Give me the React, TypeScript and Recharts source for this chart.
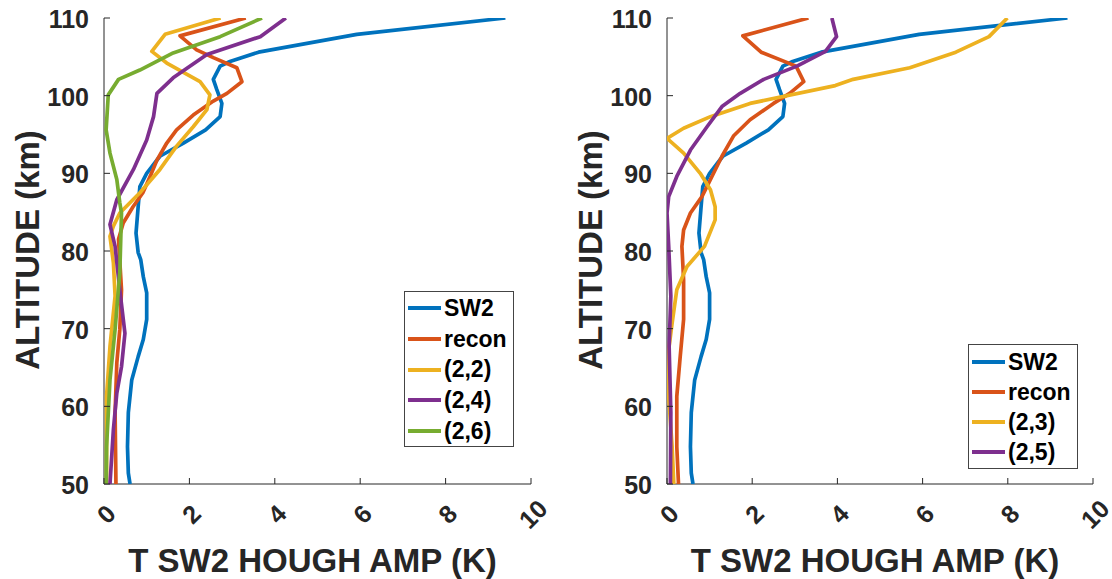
import React from 'react';
import { ScatterChart, Scatter, XAxis, YAxis } from 'recharts';

// ---------- data: [altitude (km), amplitude (K)] ----------
const sw2: [number, number][] = [
  [110, 9.4], [107.9, 5.92], [105.6, 3.62], [104.4, 2.95], [103.8, 2.72], [102.1, 2.56],
  [100.8, 2.64], [99.0, 2.76], [97.3, 2.72], [95.6, 2.38], [93.9, 1.86], [92.2, 1.31],
  [90.0, 1.0], [88.3, 0.84], [85.7, 0.8], [82.3, 0.75], [79.8, 0.8], [78.9, 0.86],
  [76.7, 0.92], [74.6, 1.0], [71.2, 1.0], [68.6, 0.92], [66.4, 0.8], [63.4, 0.65],
  [59.2, 0.57], [54.8, 0.55], [51.4, 0.57], [50, 0.61],
];

const reconLeft: [number, number][] = [
  [110, 3.32], [107.7, 1.78], [105.9, 2.17], [104.9, 2.56], [103.6, 3.11], [101.8, 3.23],
  [100.3, 2.88], [99.3, 2.56], [97.5, 2.09], [95.6, 1.7], [93.9, 1.47], [91.7, 1.24],
  [89.6, 1.08], [87.5, 0.91], [85.7, 0.68], [83.6, 0.45], [81.5, 0.34], [75.0, 0.41],
  [69.9, 0.37], [65.6, 0.3], [59.2, 0.26], [50, 0.28],
];

const mode22: [number, number][] = [
  [110, 2.73], [107.9, 1.43], [105.7, 1.12], [104.2, 1.47], [101.8, 2.25], [100.1, 2.48],
  [98.2, 2.41], [96.0, 2.09], [93.5, 1.7], [90.5, 1.31], [87.5, 0.84], [84.9, 0.37],
  [83.2, 0.22], [81.9, 0.14], [78.5, 0.22], [74.2, 0.26], [67.7, 0.14], [61.3, 0.06], [50, 0.06],
];

const mode24: [number, number][] = [
  [110, 4.26], [107.6, 3.66], [105.3, 2.41], [102.3, 1.62], [100.3, 1.24], [97.3, 1.16],
  [94.3, 1.0], [90.5, 0.69], [86.6, 0.3], [83.4, 0.14], [80.6, 0.26], [75.0, 0.37],
  [69.4, 0.49], [65.1, 0.41], [61.7, 0.3], [57.0, 0.22], [50, 0.14],
];

const mode26: [number, number][] = [
  [110, 3.7], [107.6, 2.72], [105.5, 1.62], [103.3, 0.84], [102.1, 0.34], [100.1, 0.1],
  [95.6, 0.05], [92.6, 0.14], [89.2, 0.3], [86.2, 0.37], [84.9, 0.41], [77.2, 0.37],
  [69.9, 0.26], [63.4, 0.14], [54.8, 0.06], [50, 0.05],
];

const reconRight: [number, number][] = [
  [110, 3.32], [107.7, 1.78], [105.6, 2.21], [103.8, 3.03], [101.8, 3.21], [100.3, 2.88],
  [99.0, 2.5], [96.9, 1.95], [94.8, 1.56], [92.2, 1.29], [89.2, 1.02], [87.0, 0.82],
  [84.9, 0.55], [82.7, 0.39], [80.6, 0.35], [76.3, 0.39], [71.2, 0.39], [66.4, 0.31],
  [61.3, 0.23], [54.8, 0.23], [50, 0.27],
];

const mode23: [number, number][] = [
  [110, 7.99], [107.6, 7.56], [105.6, 6.78], [103.6, 5.7], [102.1, 4.37], [101.3, 3.95],
  [99.0, 1.95], [97.3, 1.02], [95.8, 0.39], [94.5, 0.0], [92.6, 0.39], [90.0, 0.78],
  [87.9, 1.02], [85.7, 1.13], [84.0, 1.13], [80.6, 0.88], [78.0, 0.47], [75.0, 0.23],
  [70.7, 0.12], [65.6, 0.0], [61.3, 0.04], [54.8, 0.12], [50, 0.16],
];

const mode25: [number, number][] = [
  [110, 3.87], [107.6, 3.98], [105.7, 3.72], [103.8, 3.05], [102.1, 2.27], [100.3, 1.72],
  [98.6, 1.29], [96.0, 0.94], [93.0, 0.55], [89.6, 0.23], [87.0, 0.04], [84.9, 0.0],
  [80.6, 0.04], [74.2, 0.09], [67.7, 0.05], [59.2, 0.09], [50, 0.08],
];

const xTicks = [0, 2, 4, 6, 8, 10];
const yTicks = [50, 60, 70, 80, 90, 100, 110];
const xLabel = 'T SW2 HOUGH AMP (K)';
const yLabel = 'ALTITUDE (km)';

const C_BLUE = '#0072BD';
const C_ORANGE = '#D95319';
const C_YELLOW = '#EDB120';
const C_PURPLE = '#7E2F8E';
const C_GREEN = '#77AC30';

type Series = { name: string; color: string; data: [number, number][] };

const leftSeries: Series[] = [
  { name: 'SW2', color: C_BLUE, data: sw2 },
  { name: 'recon', color: C_ORANGE, data: reconLeft },
  { name: '(2,2)', color: C_YELLOW, data: mode22 },
  { name: '(2,4)', color: C_PURPLE, data: mode24 },
  { name: '(2,6)', color: C_GREEN, data: mode26 },
];

const rightSeries: Series[] = [
  { name: 'SW2', color: C_BLUE, data: sw2 },
  { name: 'recon', color: C_ORANGE, data: reconRight },
  { name: '(2,3)', color: C_YELLOW, data: mode23 },
  { name: '(2,5)', color: C_PURPLE, data: mode25 },
];

// ---------- styling ----------
const FONT = '"Liberation Sans", Arial, Helvetica, sans-serif';
const AXIS = '#262626';
const TICK_LEN = 6;

const BottomTick = (props: any) => {
  const { x, y, payload } = props;
  return (
    <g>
      <line x1={x} y1={y} x2={x} y2={y - TICK_LEN} stroke={AXIS} strokeWidth={1} />
      <text
        transform={`translate(${x + 2},${y + 30}) rotate(-45)`}
        textAnchor="middle"
        dominantBaseline="central"
        fontFamily={FONT}
        fontWeight="bold"
        fontSize={25}
        fill={AXIS}
      >
        {payload.value}
      </text>
    </g>
  );
};

const TopTick = (props: any) => {
  const { x, y } = props;
  return <line x1={x} y1={y} x2={x} y2={y + TICK_LEN} stroke={AXIS} strokeWidth={1} />;
};

const LeftTick = (props: any) => {
  const { x, y, payload } = props;
  return (
    <g>
      <line x1={x} y1={y} x2={x + TICK_LEN} y2={y} stroke={AXIS} strokeWidth={1} />
      <text
        x={x - 15}
        y={y + 1}
        textAnchor="end"
        dominantBaseline="central"
        fontFamily={FONT}
        fontWeight="bold"
        fontSize={25}
        fill={AXIS}
      >
        {payload.value}
      </text>
    </g>
  );
};

const RightTick = (props: any) => {
  const { x, y } = props;
  return <line x1={x} y1={y} x2={x - TICK_LEN} y2={y} stroke={AXIS} strokeWidth={1} />;
};

const noShape = () => <g />;

type PanelProps = {
  series: Series[];
  left: number;
  yAxisWidth: number;
  rightMargin: number;
  legendBox: { left: number; top: number; width: number; rowH: number; padTop: number };
};

const W = 556;
const H = 579;

const Panel = ({ series, left, yAxisWidth, rightMargin, legendBox }: PanelProps) => {
  const plotLeft = yAxisWidth;
  const plotRight = W - rightMargin;
  const xCenter = (plotLeft + plotRight) / 2;
  return (
    <div style={{ position: 'absolute', left, top: 0, width: W, height: H }}>
      <ScatterChart width={W} height={H} margin={{ top: 18, right: rightMargin, bottom: 0, left: 0 }}>
        <XAxis
          xAxisId="b"
          type="number"
          dataKey="x"
          domain={[0, 10]}
          ticks={xTicks}
          allowDataOverflow
          height={95}
          tickSize={0}
          tickMargin={0}
          tickLine={false}
          tick={BottomTick}
          axisLine={{ stroke: AXIS, strokeWidth: 1 }}
          interval={0}
          label={{
            content: () => (
              <text
                x={xCenter - 5}
                y={572}
                textAnchor="middle"
                fontFamily={FONT}
                fontWeight="bold"
                fontSize={33}
                fill={AXIS}
              >
                {xLabel}
              </text>
            ),
          }}
        />
        <XAxis
          xAxisId="t"
          orientation="top"
          type="number"
          domain={[0, 10]}
          ticks={xTicks}
          allowDataOverflow
          height={0}
          tickSize={0}
          tickMargin={0}
          tickLine={false}
          tick={TopTick}
          axisLine={{ stroke: AXIS, strokeWidth: 1 }}
          interval={0}
        />
        <YAxis
          yAxisId="l"
          type="number"
          dataKey="y"
          domain={[50, 110]}
          ticks={yTicks}
          allowDataOverflow
          width={yAxisWidth}
          tickSize={0}
          tickMargin={0}
          tickLine={false}
          tick={LeftTick}
          axisLine={{ stroke: AXIS, strokeWidth: 1 }}
          interval={0}
          label={{
            content: () => {
              const lx = yAxisWidth - 65;
              const ly = 250;
              return (
                <text
                  x={lx}
                  y={ly}
                  transform={`rotate(-90, ${lx}, ${ly})`}
                  textAnchor="middle"
                  fontFamily={FONT}
                  fontWeight="bold"
                  fontSize={33}
                  fill={AXIS}
                >
                  {yLabel}
                </text>
              );
            },
          }}
        />
        <YAxis
          yAxisId="r"
          orientation="right"
          type="number"
          domain={[50, 110]}
          ticks={yTicks}
          allowDataOverflow
          width={0}
          tickSize={0}
          tickMargin={0}
          tickLine={false}
          tick={RightTick}
          axisLine={{ stroke: AXIS, strokeWidth: 1 }}
          interval={0}
        />
        {series.map((s) => (
          <Scatter
            key={s.name}
            name={s.name}
            xAxisId="b"
            yAxisId="l"
            data={s.data.map(([alt, amp]) => ({ x: amp, y: alt }))}
            fill={s.color}
            line={{ stroke: s.color, strokeWidth: 3.7, strokeLinejoin: 'round', strokeLinecap: 'butt' }}
            lineJointType="linear"
            shape={noShape}
            isAnimationActive={false}
          />
        ))}
      </ScatterChart>
      <div
        style={{
          position: 'absolute',
          left: legendBox.left,
          top: legendBox.top,
          width: legendBox.width,
          boxSizing: 'border-box',
          border: '1px solid #444',
          background: '#fff',
          paddingTop: legendBox.padTop,
          paddingBottom: legendBox.padTop - 1,
          fontFamily: FONT,
          fontWeight: 'bold',
          fontSize: 23,
          color: '#000',
        }}
      >
        {series.map((s) => (
          <div
            key={s.name}
            style={{ display: 'flex', alignItems: 'center', height: legendBox.rowH, whiteSpace: 'nowrap' }}
          >
            <div style={{ width: 33, height: 4, background: s.color, marginLeft: 3, marginRight: 3 }} />
            <span style={{ lineHeight: `${legendBox.rowH}px` }}>{s.name}</span>
          </div>
        ))}
      </div>
    </div>
  );
};

export default function App() {
  return (
    <div style={{ position: 'absolute', left: 0, top: 0, width: 1112, height: 579, background: '#fff', overflow: 'hidden' }}>
      <Panel
        series={leftSeries}
        left={0}
        yAxisWidth={104}
        rightMargin={25}
        legendBox={{ left: 404, top: 291, width: 110, rowH: 30.7, padTop: 1 }}
      />
      <Panel
        series={rightSeries}
        left={556}
        yAxisWidth={111}
        rightMargin={19}
        legendBox={{ left: 412, top: 344, width: 110, rowH: 30, padTop: 2 }}
      />
    </div>
  );
}
